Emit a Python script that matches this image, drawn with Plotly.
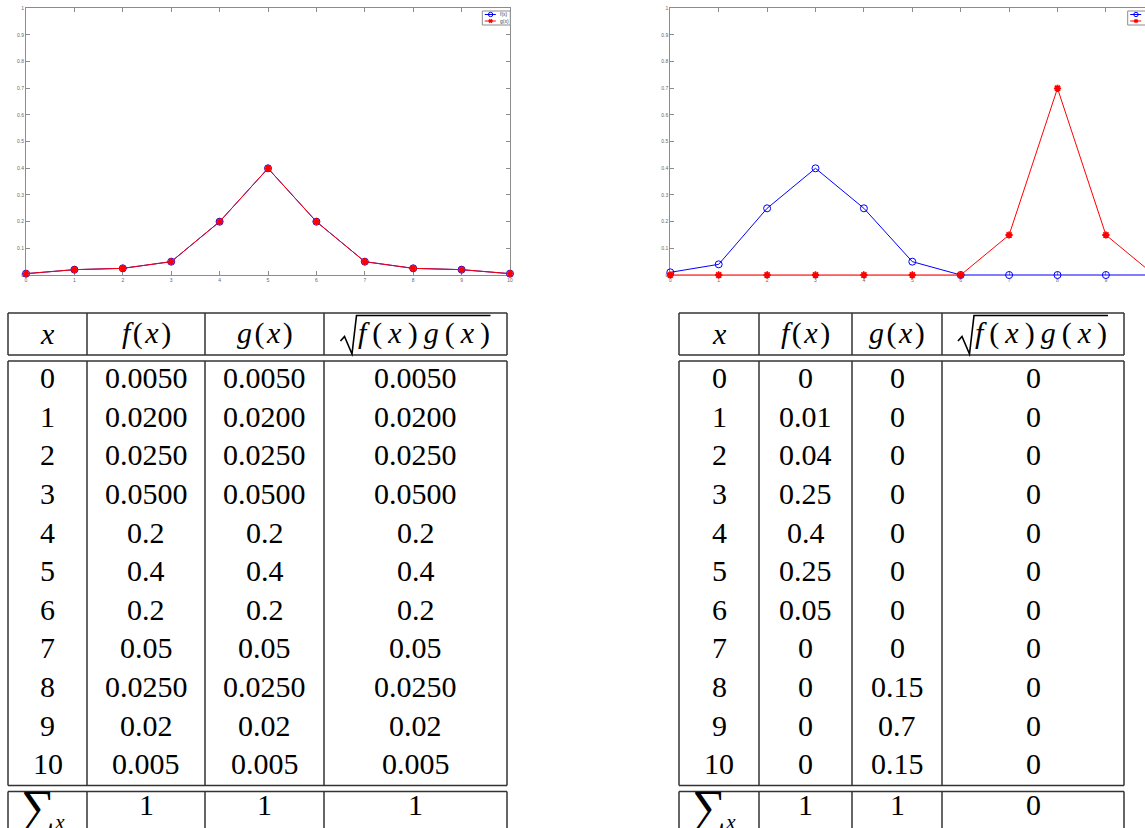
import plotly.graph_objects as go

# ---------------- data ----------------
x_vals = list(range(11))
f_left = [0.005, 0.02, 0.025, 0.05, 0.2, 0.4, 0.2, 0.05, 0.025, 0.02, 0.005]
g_left = [0.005, 0.02, 0.025, 0.05, 0.2, 0.4, 0.2, 0.05, 0.025, 0.02, 0.005]
f_right = [0.01, 0.04, 0.25, 0.4, 0.25, 0.05, 0, 0, 0, 0, 0]
g_right = [0, 0, 0, 0, 0, 0, 0, 0.15, 0.7, 0.15, 0]

y_ticks = [0, 0.1, 0.2, 0.3, 0.4, 0.5, 0.6, 0.7, 0.8, 0.9, 1]
y_ticktext = ["0", "0.1", "0.2", "0.3", "0.4", "0.5", "0.6", "0.7", "0.8", "0.9", "1"]
x_ticktext = [str(v) for v in x_vals]
legend_names = ["f(x)", "g(x)"]

tbl_x = [str(v) for v in x_vals]
tbl_left_f = ["0.0050", "0.0200", "0.0250", "0.0500", "0.2", "0.4", "0.2", "0.05", "0.0250", "0.02", "0.005"]
tbl_left_g = ["0.0050", "0.0200", "0.0250", "0.0500", "0.2", "0.4", "0.2", "0.05", "0.0250", "0.02", "0.005"]
tbl_left_s = ["0.0050", "0.0200", "0.0250", "0.0500", "0.2", "0.4", "0.2", "0.05", "0.0250", "0.02", "0.005"]
tbl_left_sum = ["1", "1", "1"]

tbl_right_f = ["0", "0.01", "0.04", "0.25", "0.4", "0.25", "0.05", "0", "0", "0", "0"]
tbl_right_g = ["0", "0", "0", "0", "0", "0", "0", "0", "0.15", "0.7", "0.15"]
tbl_right_s = ["0", "0", "0", "0", "0", "0", "0", "0", "0", "0", "0"]
tbl_right_sum = ["1", "1", "0"]

HS = "\u200a"   # hair space
TS = "\u2009"   # thin space
header = ["<i>x</i>",
          f"<i>f</i>{HS}({HS}<i>x</i>{HS})",
          f"<i>g</i>{HS}({HS}<i>x</i>{HS})"]
sqrt_header = f"<i>f</i>{TS}({TS}<i>x</i>{TS}){TS}<i>g</i>{TS}({TS}<i>x</i>{TS})"
sum_label = "<span style='font-size:48px'>∑</span><sub><i>x</i></sub>"

# ---------------- layout helpers ----------------
W, H = 1145, 828


def px(v):
    return v / W


def py(v):
    return 1 - v / H


AX = "#8c8c8c"
BLUE = "#0000ff"
RED = "#ff0000"

fig = go.Figure()


def add_pair(f, g, xa, ya):
    fig.add_trace(go.Scatter(
        x=x_vals, y=f, mode="lines+markers", name=legend_names[0],
        xaxis=xa, yaxis=ya, cliponaxis=False, showlegend=False,
        line=dict(color=BLUE, width=1),
        marker=dict(symbol="circle-open", size=7, color=BLUE, line=dict(width=1, color=BLUE)),
    ))
    fig.add_trace(go.Scatter(
        x=x_vals, y=g, mode="lines+markers", name=legend_names[1],
        xaxis=xa, yaxis=ya, cliponaxis=False, showlegend=False,
        line=dict(color=RED, width=1),
        marker=dict(symbol="asterisk-open", size=6, color=RED, line=dict(width=1.8, color=RED)),
    ))


add_pair(f_left, g_left, "x", "y")
add_pair(f_right, g_right, "x2", "y2")

unit = 48.4
x0_left, x0_right = 26, 670.3
y_top, y_bot = 8.3, 275

common_x = dict(
    tickmode="array", tickvals=x_vals, ticktext=x_ticktext, ticks="inside", ticklen=4,
    tickcolor=AX, linecolor=AX, linewidth=1, showline=True, showgrid=False, zeroline=False,
    tickfont=dict(size=5, color="#666", family="Liberation Sans"), fixedrange=True,
    layer="below traces", automargin=False,
)
common_y = dict(
    tickmode="array", tickvals=y_ticks, ticktext=y_ticktext, ticks="inside", ticklen=4,
    tickcolor=AX, linecolor=AX, linewidth=1, showline=True, showgrid=False, zeroline=False,
    tickfont=dict(size=5, color="#666", family="Liberation Sans"), range=[0, 1], fixedrange=True,
    layer="below traces", automargin=False,
)

fig.update_layout(
    width=W, height=H, margin=dict(l=0, r=0, t=0, b=0, autoexpand=False),
    paper_bgcolor="white", plot_bgcolor="white", showlegend=False,
    xaxis=dict(domain=[px(x0_left), px(x0_left + 10 * unit)], range=[0, 10], anchor="y", mirror="ticks", **common_x),
    yaxis=dict(domain=[py(y_bot), py(y_top)], anchor="x", mirror="ticks", **common_y),
    xaxis2=dict(domain=[px(x0_right), 1], range=[0, (W - x0_right) / unit], anchor="y2", mirror="ticks", **common_x),
    yaxis2=dict(domain=[py(y_bot), py(y_top)], anchor="x2", mirror=False, **common_y),
)

shapes = []


# ---------------- legends (drawn as decorations) ----------------
def add_legend(left):
    top, bottom = 11, 25
    shapes.append(dict(type="rect", xref="paper", yref="paper", x0=px(left), x1=px(left + 28),
                       y0=py(bottom), y1=py(top), line=dict(color=AX, width=1), fillcolor="white"))
    rows = [(14.5, BLUE, "circle"), (21, RED, "star")]
    for i, (yy, col, kind) in enumerate(rows):
        shapes.append(dict(type="line", xref="paper", yref="paper", x0=px(left + 2.5), x1=px(left + 13.5),
                           y0=py(yy), y1=py(yy), line=dict(color=col, width=1)))
        mx = left + 8.3
        if kind == "circle":
            shapes.append(dict(type="circle", xref="paper", yref="paper", x0=px(mx - 2.2), x1=px(mx + 2.2),
                               y0=py(yy + 2.2), y1=py(yy - 2.2), line=dict(color=col, width=1)))
        else:
            r = 2.2
            path = (f"M {px(mx - r):.6f},{py(yy):.6f} L {px(mx + r):.6f},{py(yy):.6f} "
                    f"M {px(mx - r * 0.6):.6f},{py(yy - r * 0.8):.6f} L {px(mx + r * 0.6):.6f},{py(yy + r * 0.8):.6f} "
                    f"M {px(mx - r * 0.6):.6f},{py(yy + r * 0.8):.6f} L {px(mx + r * 0.6):.6f},{py(yy - r * 0.8):.6f}")
            shapes.append(dict(type="path", xref="paper", yref="paper", path=path, line=dict(color=col, width=1.3)))
        fig.add_annotation(x=px(left + 15.5), y=py(yy), xref="paper", yref="paper", text=legend_names[i],
                           showarrow=False, xanchor="left", yanchor="middle",
                           font=dict(size=5, color="#444", family="Liberation Sans"))


add_legend(482.3)
add_legend(1127.7)

# ---------------- tables ----------------
LINE = dict(color="#333333", width=1.5)
FONT = dict(family="Liberation Serif", size=30, color="black")

h_top, h_bot, b_top, b_bot, s_top, s_bot = 313, 355, 361, 785.5, 791.5, 860
row_h = (b_bot - b_top) / 11
TXT_UP = 2.5


def add_table(edges, cols, sums):
    for yv in (h_top, h_bot, b_top, b_bot, s_top):
        shapes.append(dict(type="line", xref="paper", yref="paper", x0=px(edges[0]), x1=px(edges[-1]),
                           y0=py(yv), y1=py(yv), line=LINE))
    for xv in edges:
        for (a, b) in ((h_top, h_bot), (b_top, b_bot), (s_top, s_bot)):
            shapes.append(dict(type="line", xref="paper", yref="paper", x0=px(xv), x1=px(xv),
                               y0=py(a), y1=py(b), line=LINE))
    centers = [(edges[i] + edges[i + 1]) / 2 for i in range(4)]
    # header
    hc = (h_top + h_bot) / 2 - 1
    for i in range(3):
        fig.add_annotation(x=px(centers[i]), y=py(hc), xref="paper", yref="paper", text=header[i],
                           showarrow=False, xanchor="center", yanchor="middle", font=FONT)
    c = centers[3]
    fig.add_annotation(x=px(c + 8), y=py(hc), xref="paper", yref="paper", text=sqrt_header,
                       showarrow=False, xanchor="center", yanchor="middle", font=FONT)
    pts = [(c - 75, 341), (c - 71, 336.5), (c - 63.5, 354), (c - 59, 315.5), (c + 75, 315.5)]
    path = "M " + " L ".join(f"{px(a):.6f},{py(b):.6f}" for a, b in pts)
    shapes.append(dict(type="path", xref="paper", yref="paper", path=path,
                       line=dict(color="black", width=1.6)))
    # body
    for r in range(11):
        yc = b_top + row_h * (r + 0.5) - TXT_UP
        for ci, col in enumerate(cols):
            fig.add_annotation(x=px(centers[ci]), y=py(yc), xref="paper", yref="paper", text=col[r],
                               showarrow=False, xanchor="center", yanchor="middle", font=FONT)
    # sum row
    fig.add_annotation(x=px(centers[0] - 5), y=py(807), xref="paper", yref="paper", text=sum_label,
                       showarrow=False, xanchor="center", yanchor="middle", font=FONT)
    for ci in range(3):
        fig.add_annotation(x=px(centers[ci + 1]), y=py(807 - TXT_UP), xref="paper", yref="paper", text=sums[ci],
                           showarrow=False, xanchor="center", yanchor="middle", font=FONT)


add_table([8, 87, 205, 324, 507], [tbl_x, tbl_left_f, tbl_left_g, tbl_left_s], tbl_left_sum)
add_table([679, 759, 852, 942, 1124], [tbl_x, tbl_right_f, tbl_right_g, tbl_right_s], tbl_right_sum)
fig.update_layout(shapes=shapes)

post = ("document.documentElement.style.margin='0';document.body.style.margin='0';"
        "document.body.style.padding='0';document.body.style.overflow='hidden';")
fig.write_html("out.html", post_script=post, config={"displayModeBar": False})
